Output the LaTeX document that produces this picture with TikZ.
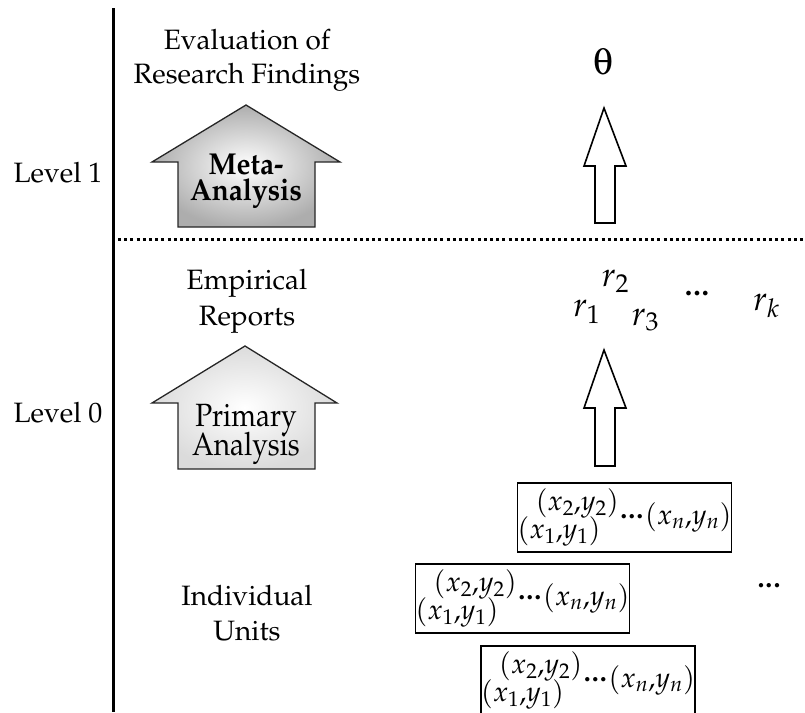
\documentclass[tikz,border=0pt]{standalone}
\usepackage[T1]{fontenc}
\usepackage{mathpazo}
\usepackage[Symbol]{upgreek}
\tikzset{
  lbl/.style={anchor=base,inner sep=0pt,font=\fontsize{28}{34}\selectfont},
  bigarrow/.style={draw=black!85,line width=1.3pt,line join=miter},
  whitearrow/.style={draw=black,fill=white,line width=1.6pt,line join=miter},
  pairbox/.style={draw=black,line width=1.2pt,minimum width=207pt,minimum height=69pt,inner sep=0pt,font=\fontsize{28}{34}\selectfont},
  rlab/.style={anchor=base west,inner sep=0pt,font=\fontsize{34}{40}\selectfont},
}
\newcommand\mydots{\raisebox{0.22em}{\bfseries.\kern1pt.\kern1pt.}}
\newcommand\pairs{$\begin{array}{@{}l@{}}\hspace{0.65em}(x_2{,}y_2)\\[-6pt](x_1{,}y_1)\end{array}\mkern1mu\mbox{\mydots}\mkern1mu(x_n{,}y_n)$}
\begin{document}
\begin{tikzpicture}[x=1pt,y=-1pt]
\useasboundingbox (0,0) rectangle (805,712);
% axis
\draw[line width=3.5pt] (113.5,8) coordinate (axtop) -- (113.5,712) coordinate (axbot);
\draw[line width=3pt,dash pattern=on 3pt off 3.2pt] (118,239) coordinate (dl) -- (805,239) coordinate (dr);
% level labels
\node[lbl] (lev1) at (58,182) {Level 1};
\node[lbl] (lev0) at (58,422) {Level 0};
% left column texts
\node[lbl] (ev1) at (247,49.3) {Evaluation of};
\node[lbl] (ev2) at (247,83.3) {Research Findings};
\node[lbl] (em1) at (247,289.3) {Empirical};
\node[lbl] (em2) at (247,325) {Reports};
\node[lbl] (iu1) at (247,605) {Individual};
\node[lbl] (iu2) at (247,640) {Units};
% big grey arrows
\path[bigarrow,shade,inner color=white,outer color=black!32]
  (246,105) -- (340,162) -- (315,162) -- (315,227) -- (178,227) -- (178,162) -- (152,162) -- cycle;
\node[anchor=base,inner sep=0pt,font=\fontsize{28}{34}\selectfont\bfseries] (ma1) at (246,174) {\scalebox{1}[1.08]{Meta-}};
\node[anchor=base,inner sep=0pt,font=\fontsize{28}{34}\selectfont\bfseries] (ma2) at (246,200) {\scalebox{1}[1.08]{Analysis}};
\path[bigarrow,shade,inner color=white,outer color=black!14]
  (245,346) -- (337,403) -- (315,403) -- (315,469) -- (178,469) -- (178,403) -- (152,403) -- cycle;
\node[anchor=base,inner sep=0pt,font=\fontsize{28}{34}\selectfont] (pa1) at (246,426.5) {\scalebox{1}[1.15]{Primary}};
\node[anchor=base,inner sep=0pt,font=\fontsize{28}{34}\selectfont] (pa2) at (246,455) {\scalebox{1}[1.15]{Analysis}};
% white arrows
\draw[whitearrow] (604,108) -- (626,166) -- (615,166) -- (615,223) -- (595,223) -- (595,166) -- (584,166) -- cycle;
\draw[whitearrow] (604,350) -- (626,408) -- (615,408) -- (615,466) -- (595,466) -- (595,408) -- (584,408) -- cycle;
% theta
\node[inner sep=0pt,font=\fontsize{38}{44}\selectfont] (theta) at (603,61.5) {$\uptheta$};
% r's
\node[rlab] (r1) at (573,316.7) {$r_1$};
\node[rlab] (r2) at (601.7,286.7) {$r_2$};
\node[rlab] (r3) at (631.7,325) {$r_3$};
\node[inner sep=0pt,font=\fontsize{30}{34}\selectfont] (rdots) at (697,297) {\mydots};
\node[rlab] (rk) at (753,310) {$r_k$};
% boxes
\node[pairbox] (b1) at (624.5,517.5) {\pairs};
\node[pairbox] (b2) at (522.5,598.5) {\pairs};
\node[pairbox] (b3) at (588,680.5) {\pairs};
\node[inner sep=0pt,font=\fontsize{28}{34}\selectfont] (bdots) at (769,589) {\mydots};
\end{tikzpicture}
\end{document}
